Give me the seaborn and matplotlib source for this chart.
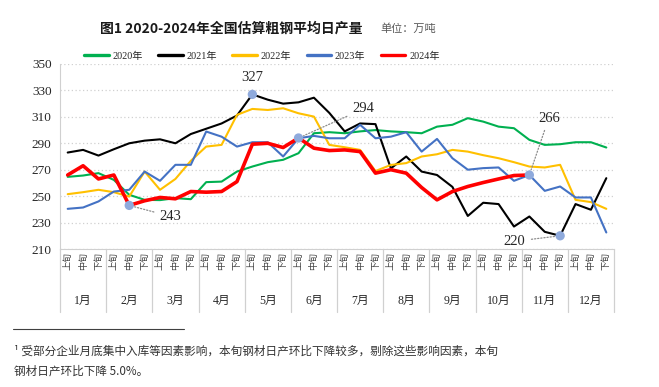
import pandas as pd
import numpy as np
import matplotlib
matplotlib.use("Agg")
import matplotlib.pyplot as plt
import seaborn as sns

sns.set_style("white")
plt.rcParams['font.family'] = ['Liberation Serif', 'Noto Sans CJK SC', 'DejaVu Sans']

# ten-day periods, 12 months x 3
months = [f'{m}月' for m in range(1, 13)]
periods = ['上旬', '中旬', '下旬'] * 12

v2020 = [264.6, 265.6, 267.4, 262.3, 251, 247.2, 247, 248.5, 247.7, 260.6, 261, 268.6,
         272.4, 275.7, 277.5, 282.5, 297.6, 298.4, 297.6, 299, 300, 299, 298.4, 297.6,
         302.6, 304, 309, 306.4, 302.6, 301.4, 292.6, 288.8, 289.3, 290.8, 290.8, 286.8]
v2021 = [283, 285, 280.7, 285.5, 290, 292, 293, 290, 297, 301, 305, 311,
         327, 323, 320, 321, 324.5, 313, 299, 305, 304.5, 271, 280, 268.6,
         266, 257, 235, 245, 244, 227, 234.6, 223, 220, 244, 239.7, 263.6]
v2022 = [251.5, 253, 254.8, 253, 249.7, 268.6, 254.8, 263, 276.7, 287.5, 288.8, 311.5,
         316, 315.2, 316.5, 312.7, 310.2, 288.8, 287, 285, 269, 273.6, 275, 280,
         281.7, 285, 283.7, 281, 278.7, 275.7, 272.4, 271.7, 273.7, 247.2, 245.5, 240.4]
v2023 = [240.4, 241.4, 246, 253.5, 254.8, 268.6, 261.6, 273.7, 273.7, 298.9, 295, 287.5,
         290.8, 290.8, 280, 293.8, 295.6, 293.8, 293.8, 304, 293.8, 295, 298.4, 283.7,
         293.3, 278.7, 270, 271.2, 271.7, 261.6, 266, 254, 257.3, 249, 249, 222.5]
v2024 = [266, 273, 263, 266, 243, 246.5, 249, 248, 253.5, 253, 253.5, 261,
         289.3, 290, 286.8, 294, 286.3, 284.5, 285, 283.7, 267.4, 270, 267.4, 256.5,
         247.2, 253.5, 257.3, 260.3, 263, 265.6, 266]

years = ['2020年', '2021年', '2022年', '2023年', '2024年']
series = [v2020, v2021, v2022, v2023, v2024]
palette = {'2020年': '#00B050', '2021年': '#000000', '2022年': '#FFC000',
           '2023年': '#4472C4', '2024年': '#FF0000'}
widths = {'2020年': 1.5, '2021年': 1.5, '2022年': 1.5, '2023年': 1.5, '2024年': 2.6}

# labelled points: (year, period index)
marks = [('2024年', 4), ('2021年', 12), ('2024年', 15), ('2024年', 30), ('2021年', 32)]
mark_offsets = [((22, -8), 'left'), ((0, 12), 'center'), ((39, 21), 'left'),
                ((14, 41), 'center'), ((-25, -4), 'right')]

rows = []
for y, vals in zip(years, series):
    for i, v in enumerate(vals):
        rows.append({'year': y, 'idx': i, 'value': v})
df = pd.DataFrame(rows)

fig = plt.figure(figsize=(6.59, 3.87), dpi=100)
ax = fig.add_axes([60 / 659, 1 - 249 / 387, 554 / 659, 185 / 387])

for y in years:
    sns.lineplot(data=df[df['year'] == y], x='idx', y='value', color=palette[y],
                 linewidth=widths[y], label=y, ax=ax, solid_joinstyle='round',
                 solid_capstyle='round')

# highlighted points
for (y, i), (off, ha) in zip(marks, mark_offsets):
    v = df.loc[(df['year'] == y) & (df['idx'] == i), 'value'].iloc[0]
    ax.scatter([i], [v], s=45, color='#8FAADC', zorder=5, edgecolor='none')
    ax.annotate(f'{v:.0f}', xy=(i, v), xytext=off, textcoords='offset points',
                ha=ha, va='center', fontsize=10.5, color='#262626',
                arrowprops=dict(arrowstyle='-', color='#8C8C8C', linestyle=(0, (1, 1.5)),
                                linewidth=0.9, shrinkA=2, shrinkB=4))

ax.set_xlim(-0.5, 35.5)
ax.set_ylim(210, 350)
ax.set_yticks(np.arange(210, 351, 20))
ax.set_xticks(range(36))
ax.set_xticklabels(periods, rotation=90, fontsize=6.5, color='#404040',
                   family=['Noto Sans CJK SC'])
ax.set_xticks(np.arange(0.5, 35, 1), minor=True)
ax.tick_params(axis='x', which='major', length=0, pad=2)
ax.tick_params(axis='x', which='minor', direction='in', length=3, color='#BFBFBF')
ax.tick_params(axis='y', labelsize=9.5, length=4, color='#BFBFBF', labelcolor='#262626', pad=2)
ax.set_xlabel('')
ax.set_ylabel('')
ax.grid(axis='y', color='#D0D0D0', linestyle=(0, (1, 2)), linewidth=0.9)
sns.despine(ax=ax)
for s in ['left', 'bottom']:
    ax.spines[s].set_color('#D0D0D0')

# month labels and separators below axis
for k, m in enumerate(months):
    ax.text(3 * k + 1, -0.28, m, transform=ax.get_xaxis_transform(), ha='center',
            va='center', fontsize=8.5, color='#262626')
for k in range(13):
    ax.plot([3 * k - 0.5, 3 * k - 0.5], [0, -0.34], transform=ax.get_xaxis_transform(),
            color='#D0D0D0', linewidth=0.9, clip_on=False)

sns.move_legend(ax, 'center', bbox_to_anchor=(262 / 659, 1 - 56 / 387),
                bbox_transform=fig.transFigure, ncol=5, frameon=False, title=None,
                fontsize=7.3, handlelength=2.4, columnspacing=1.5, handletextpad=0.4)
leg = ax.get_legend()
for h in leg.legend_handles:
    h.set_linewidth(2.4)

fig.text(100 / 659, 1 - 29 / 387, '图1 2020-2024年全国估算粗钢平均日产量', fontsize=10,
         fontweight='bold', ha='left', va='center', color='#1a1a1a',
         family=['Noto Sans CJK SC'])
fig.text(380 / 659, 1 - 29 / 387, '单位：万吨', fontsize=8, ha='left', va='center',
         color='#595959', family=['Noto Sans CJK SC'])

# footnote
fig.add_artist(plt.Line2D([13 / 659, 184 / 659], [1 - 329 / 387, 1 - 329 / 387],
                          color='#404040', linewidth=0.8))
fig.text(14 / 659, 1 - 351 / 387,
         '¹ 受部分企业月底集中入库等因素影响，本旬钢材日产环比下降较多，剔除这些影响因素，本旬',
         fontsize=8.4, ha='left', va='center', color='#333333',
         family=['Noto Sans CJK SC', 'DejaVu Sans'])
fig.text(14 / 659, 1 - 371 / 387, '钢材日产环比下降 5.0%。', fontsize=8.4, ha='left',
         va='center', color='#333333', family=['Noto Sans CJK SC', 'DejaVu Sans'])

fig.savefig('out.png', dpi=100)
